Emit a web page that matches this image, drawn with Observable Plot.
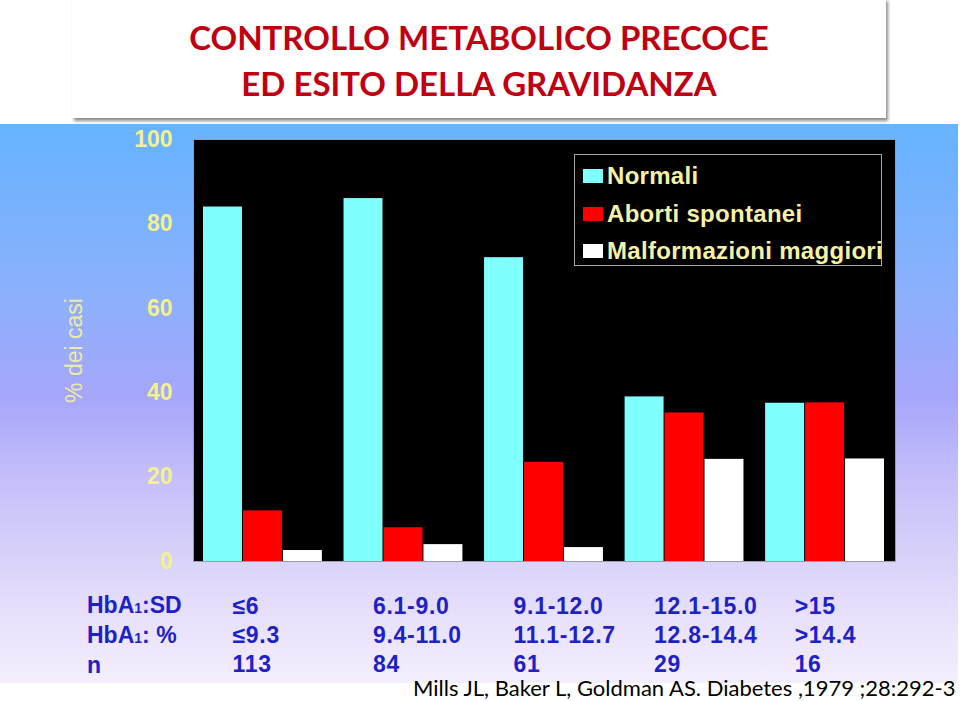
<!DOCTYPE html>
<html>
<head>
<meta charset="utf-8">
<script src="https://cdn.jsdelivr.net/npm/d3@7"></script>
<script src="https://cdn.jsdelivr.net/npm/@observablehq/plot@0.6"></script>
<style>
  html, body { margin: 0; padding: 0; width: 960px; height: 701px; overflow: hidden; background: #fff; }
  #page { position: relative; width: 960px; height: 701px; overflow: hidden; }
  #bg { position: absolute; left: 0; top: 124px; width: 958px; height: 559px;
        background: linear-gradient(#66b3ff 0%, #8cb0fc 31%, #a6a6fb 49%, #c2bdfa 62%, #d6d0fa 76%, #e8e0fb 88%, #f4eefd 100%); }
  #titlebox { position: absolute; left: 72px; top: -2px; width: 814px; height: 120px; background: #fff;
        box-shadow: 2px 3px 3px rgba(0,0,0,0.45); z-index: 3; }
  #title { position: absolute; left: 0; right: 0; top: 16px; text-align: center; color: #c00010;
        font-family: Lato, "Open Sans", sans-serif; font-weight: bold; font-size: 33px; line-height: 46px; }
  #chart { position: absolute; left: 0; top: 0; z-index: 1; }
  #legend { position: absolute; left: 574px; top: 154px; width: 308px; height: 112px; box-sizing: border-box;
        border: 1px solid #a8a8a8; background: #000; z-index: 2; padding-top: 2px; }
  .lrow { position: relative; height: 37.5px; line-height: 37.5px; font-family: "Liberation Sans", Arial, sans-serif;
        font-weight: bold; font-size: 24px; letter-spacing: 0.3px; color: #f6f2a4; padding-left: 32px; white-space: nowrap; }
  .lsw { position: absolute; left: 8px; top: 12px; width: 20px; height: 14px; }
  #rows { position: absolute; left: 87px; top: 591px; z-index: 2; font-family: "Liberation Sans", Arial, sans-serif;
        font-weight: bold; font-size: 23px; color: #1c22c8; white-space: nowrap; }
  #rows div { height: 29.75px; line-height: 29.75px; }
  #rows .sub { font-size: 14px; line-height: 0; }
  #cite { position: absolute; left: 413px; top: 679px; font-family: Lato, "Open Sans", sans-serif; font-size: 22px;
        line-height: 18px; color: #000; white-space: nowrap; z-index: 2; }
  #chart g[aria-label="text"] text { letter-spacing: 0.7px; }
</style>
</head>
<body>
<div id="page">
  <div id="bg"></div>
  <div id="titlebox"><div id="title">CONTROLLO METABOLICO PRECOCE<br>ED ESITO DELLA GRAVIDANZA</div></div>
  <div id="chart"></div>
  <div id="legend"></div>
  <div id="rows"></div>
  <div id="cite">Mills JL, Baker L, Goldman AS. Diabetes ,1979 ;28:292-3</div>
</div>
<script>
// ---- data ----
const sdLabels = ["≤6", "6.1-9.0", "9.1-12.0", "12.1-15.0", ">15"];
const pctLabels = ["≤9.3", "9.4-11.0", "11.1-12.7", "12.8-14.4", ">14.4"];
const nLabels = ["113", "84", "61", "29", "16"];
const rowHeaders = [["HbA", "1", ":SD"], ["HbA", "1", ": %"], ["n", "", ""]];
const series = ["Normali", "Aborti spontanei", "Malformazioni maggiori"];
const seriesColors = ["#80ffff", "#ff0000", "#ffffff"];
const normali = [84, 86, 72, 39, 37.5];
const aborti = [12, 8, 23.5, 35.2, 37.6];
const malformazioni = [2.6, 4, 3.3, 24.2, 24.3];
const yTicks = [0, 20, 40, 60, 80, 100];
const yLabel = "% dei casi";

// ---- tables built from the arrays ----
const valuesBySeries = [normali, aborti, malformazioni];
const bars = [];
sdLabels.forEach((g, i) => {
  series.forEach((s, j) => bars.push({group: g, series: s, value: valuesBySeries[j][i]}));
});
const table = sdLabels.map((g, i) => ({group: g, sd: g, pct: pctLabels[i], n: nLabels[i]}));

const tableColor = "#1c22c8";
const tableFont = {fontSize: 23, fontWeight: "bold", fill: tableColor, textAnchor: "start", frameAnchor: "bottom-left"};

const chart = Plot.plot({
  width: 960,
  height: 701,
  marginLeft: 203,
  marginRight: 75,
  marginTop: 139,
  marginBottom: 140,
  style: {background: "transparent", fontFamily: "'Liberation Sans', Arial, sans-serif", overflow: "visible"},
  fx: {domain: sdLabels, paddingInner: 0.147, paddingOuter: 0, axis: null, label: null, round: false},
  x: {domain: series, padding: 0, axis: null, round: false},
  y: {domain: [0, 100], axis: null},
  color: {domain: series, range: seriesColors},
  marks: [
    Plot.frame({fill: "#000", stroke: "#9a9aaa", facet: "super", insetLeft: -10, insetRight: -10}),
    Plot.barY(bars, {fx: "group", x: "series", y: "value", fill: "series", insetRight: 1}),
    Plot.axisY({ticks: yTicks, tickSize: 0, tickPadding: 31, fontSize: 23, fontWeight: "bold", fill: "#f3f08e", label: null}),
    Plot.axisY({ticks: [], tickSize: 0, label: yLabel, labelAnchor: "center", labelOffset: 138, fontSize: 23, fill: "#eeeaa6", labelArrow: "none"}),
    Plot.text(table, {fx: "group", text: "sd", dx: 29, dy: 52, ...tableFont}),
    Plot.text(table, {fx: "group", text: "pct", dx: 29, dy: 81, ...tableFont}),
    Plot.text(table, {fx: "group", text: "n", dx: 29, dy: 110, ...tableFont})
  ]
});
document.getElementById("chart").appendChild(chart);

// row headers of the table
const rows = document.getElementById("rows");
rowHeaders.forEach(([a, sub, b]) => {
  const div = document.createElement("div");
  div.appendChild(document.createTextNode(a));
  if (sub) {
    const s = document.createElement("span");
    s.className = "sub";
    s.textContent = sub;
    div.appendChild(s);
  }
  div.appendChild(document.createTextNode(b));
  rows.appendChild(div);
});

// legend
const legend = document.getElementById("legend");
series.forEach((s, i) => {
  const row = document.createElement("div");
  row.className = "lrow";
  const sw = document.createElement("span");
  sw.className = "lsw";
  sw.style.background = seriesColors[i];
  row.appendChild(sw);
  row.appendChild(document.createTextNode(s));
  legend.appendChild(row);
});
</script>
</body>
</html>
